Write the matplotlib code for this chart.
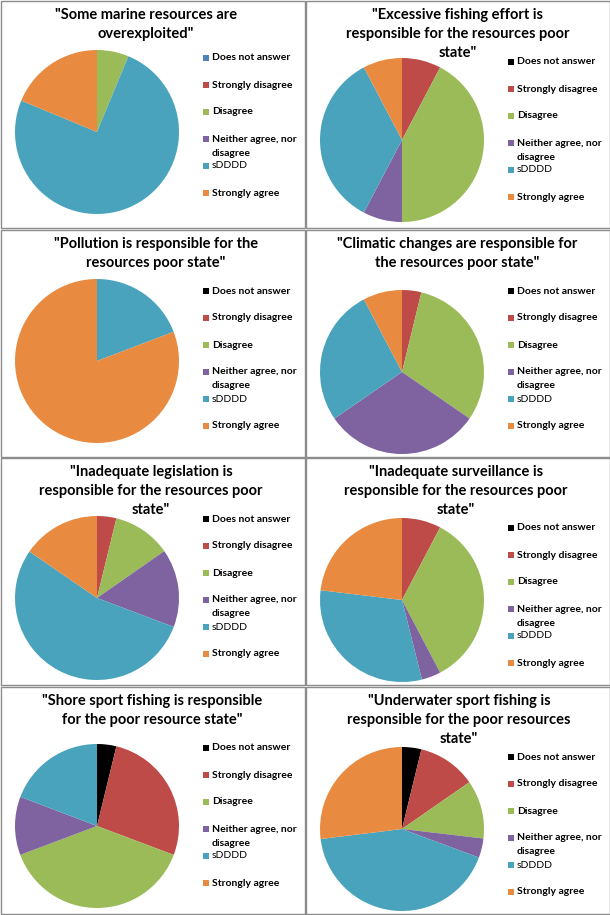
import numpy as np
import matplotlib.pyplot as plt
from matplotlib.patches import Rectangle

# categories and answers (share of respondents, %)
categories = ["Does not answer", "Strongly disagree", "Disagree",
              "Neither agree, nor\ndisagree", "sDDDD", "Strongly agree"]

titles = [
    "\"Some marine resources are\noverexploited\"",
    "\"Excessive fishing effort is\nresponsible for the resources poor\nstate\"",
    "\"Pollution is responsible for the\nresources poor state\"",
    "\"Climatic changes are responsible for\nthe resources poor state\"",
    "\"Inadequate legislation is\nresponsible for the resources poor\nstate\"",
    "\"Inadequate surveillance is\nresponsible for the resources poor\nstate\"",
    "\"Shore sport fishing is responsible\nfor the poor resource state\"",
    "\"Underwater sport fishing is\nresponsible for the poor resources\nstate\"",
]

overexploited = [0, 0, 6.25, 0, 75.0, 18.75]
fishing_effort = [0, 7.7, 42.3, 7.7, 34.6, 7.7]
pollution = [0, 0, 0, 0, 19.2, 80.8]
climatic = [0, 3.8, 30.8, 30.8, 26.9, 7.7]
legislation = [0, 3.8, 11.5, 15.4, 53.8, 15.4]
surveillance = [0, 7.7, 34.6, 3.8, 30.8, 23.1]
shore_fishing = [3.8, 26.9, 38.5, 11.5, 19.2, 0]
underwater_fishing = [3.8, 11.5, 11.5, 3.8, 42.3, 26.9]

panels = [overexploited, fishing_effort, pollution, climatic,
          legislation, surveillance, shore_fishing, underwater_fishing]

colors = ["#000000", "#be4b48", "#9bbb59", "#7f62a0", "#4aa3bd", "#e88b40"]

W, H = 610, 915
fig = plt.figure(figsize=(W / 100, H / 100), dpi=100)

# overlay in pixel coordinates for borders, titles and legends
bg = fig.add_axes([0, 0, 1, 1])
bg.set_xlim(0, W)
bg.set_ylim(H, 0)
bg.axis("off")

col_x = [0, 305]
row_y = [0, 229, 457, 686]
pie_cy = [132, 140, 132, 143, 141, 143, 140, 143]
leg_y = [58, 62, 62, 62, 62, 71, 62, 71]
title_cx = [146, 153, 156, 152, 151, 151, 152, 154]
R = 82

for i, vals in enumerate(panels):
    x0 = col_x[i % 2]
    y0 = row_y[i // 2]
    bg.add_patch(Rectangle((x0 + 0.5, y0 + 0.5), 304, 227, fill=False,
                           edgecolor="#8c8c8c", linewidth=1))

    # title, one line every ~19 px
    for j, line in enumerate(titles[i].split("\n")):
        bg.text(x0 + title_cx[i], y0 + 15 + j * 19, line, ha="center",
                va="center", fontsize=10.5, fontweight="bold",
                family="Lato", color="black")

    ax = fig.add_axes([(x0 + 97 - R) / W, 1 - (y0 + pie_cy[i] + R) / H,
                       2 * R / W, 2 * R / H])
    ax.pie(vals, colors=colors, startangle=90, counterclock=False,
           wedgeprops=dict(linewidth=0))
    ax.set_xlim(-1, 1)
    ax.set_ylim(-1, 1)

    # legend
    first = "#4f81bd" if i == 0 else colors[0]
    for k, lab in enumerate(categories):
        yy = y0 + leg_y[i] + k * 27
        c = first if k == 0 else colors[k]
        bg.add_patch(Rectangle((x0 + 203, yy - 3), 6, 6, facecolor=c,
                               edgecolor="none"))
        for j, line in enumerate(lab.split("\n")):
            bg.text(x0 + 212, yy + j * 14, line, ha="left", va="center",
                    fontsize=7.5, family="Lato",
                    fontweight="normal" if lab == "sDDDD" else "bold")

fig.savefig("out.png", dpi=100, facecolor="white")
